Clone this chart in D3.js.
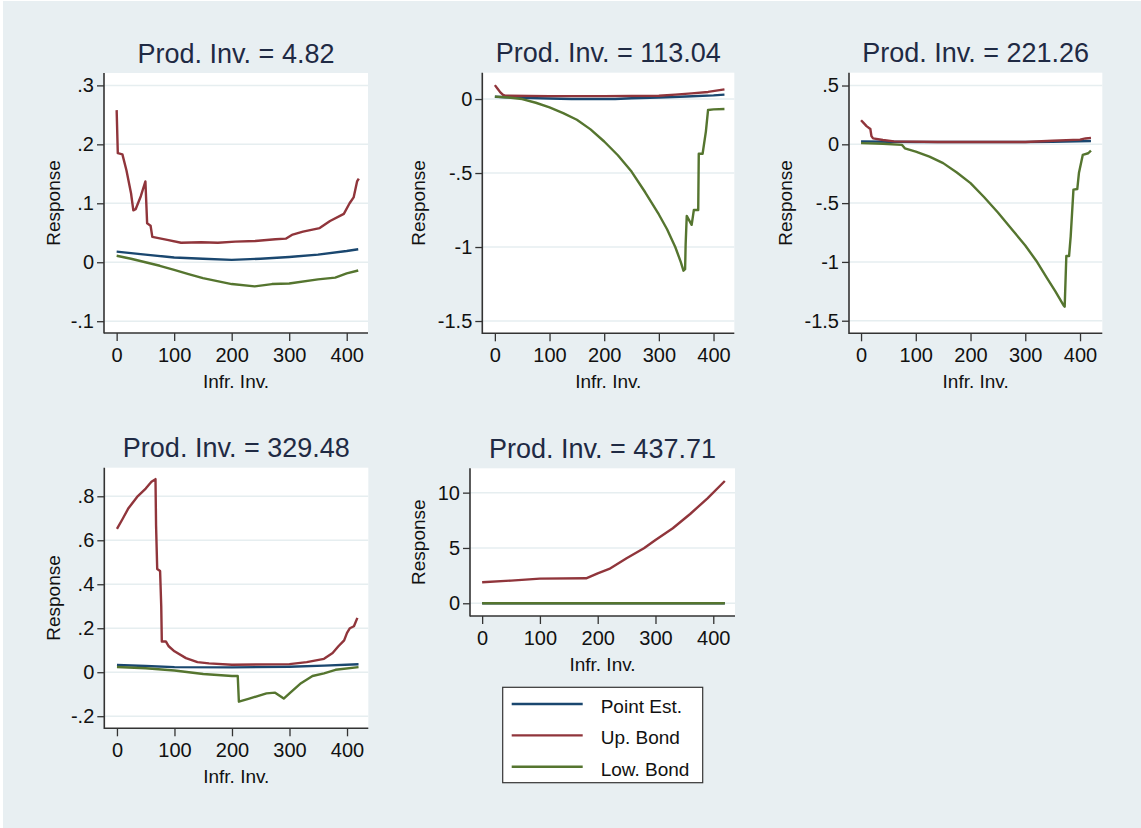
<!DOCTYPE html>
<html>
<head>
<meta charset="utf-8">
<script src="https://cdn.jsdelivr.net/npm/d3@7"></script>
<style>
  body { margin: 0; background: #ffffff; }
  svg { display: block; font-family: "Liberation Sans", Arial, sans-serif; }
</style>
</head>
<body>
<div id="chart"></div>
<script>
// values: [Infr. Inv., Response]
const titles = ['4.82', '113.04', '221.26', '329.48', '437.71']
const seriesNames = ['Point Est.', 'Up. Bond', 'Low. Bond']
const xTicks = [0, 100, 200, 300, 400]

const yTicks1 = [-0.1, 0, 0.1, 0.2, 0.3]
const point1 = [[0, 0.018], [50, 0.013], [100, 0.008], [150, 0.006], [200, 0.004], [250, 0.006], [300, 0.009], [350, 0.013], [400, 0.019], [420, 0.022]]
const up1 = [[0, 0.258], [2, 0.185], [10, 0.183], [17, 0.156], [25, 0.117], [29, 0.088], [33, 0.09], [42, 0.112], [50, 0.137], [53, 0.066], [59, 0.062], [62, 0.043], [88, 0.038], [112, 0.033], [147, 0.034], [176, 0.033], [206, 0.035], [241, 0.036], [276, 0.039], [294, 0.04], [306, 0.047], [324, 0.052], [353, 0.058], [371, 0.07], [395, 0.082], [405, 0.1], [412, 0.11], [418, 0.137], [421, 0.142]]
const low1 = [[0, 0.011], [25, 0.006], [50, 0.0], [75, -0.006], [100, -0.013], [125, -0.02], [150, -0.027], [175, -0.032], [200, -0.037], [240, -0.041], [270, -0.037], [300, -0.036], [350, -0.029], [380, -0.026], [400, -0.019], [420, -0.014]]

const yTicks2 = [-1.5, -1, -0.5, 0]
const point2 = [[0, 0.015], [20, 0.012], [50, 0.008], [100, 0.004], [140, 0.0], [220, 0.0], [250, 0.005], [300, 0.01], [350, 0.017], [400, 0.025], [420, 0.03]]
const up2 = [[0, 0.094], [5, 0.07], [10, 0.045], [15, 0.028], [20, 0.022], [100, 0.02], [200, 0.02], [300, 0.022], [330, 0.03], [360, 0.038], [390, 0.048], [420, 0.065]]
const low2 = [[0, 0.016], [25, 0.01], [50, 0.0], [75, -0.025], [100, -0.056], [125, -0.095], [150, -0.14], [175, -0.205], [200, -0.287], [225, -0.38], [250, -0.49], [275, -0.63], [300, -0.78], [315, -0.88], [330, -1.0], [340, -1.1], [345, -1.16], [348, -1.15], [349, -0.98], [351, -0.79], [360, -0.85], [364, -0.75], [372, -0.75], [373, -0.37], [380, -0.37], [386, -0.22], [390, -0.074], [400, -0.07], [420, -0.067]]

const yTicks3 = [-1.5, -1, -0.5, 0, 0.5]
const point3 = [[0, 0.025], [50, 0.022], [100, 0.02], [200, 0.02], [300, 0.02], [350, 0.022], [420, 0.028]]
const up3 = [[0, 0.205], [5, 0.18], [10, 0.155], [17, 0.13], [19, 0.07], [22, 0.05], [40, 0.037], [60, 0.025], [140, 0.02], [300, 0.02], [350, 0.03], [400, 0.04], [410, 0.05], [420, 0.055]]
const low3 = [[0, 0.01], [40, 0.005], [75, -0.005], [80, -0.034], [100, -0.062], [125, -0.105], [150, -0.16], [175, -0.24], [200, -0.33], [225, -0.45], [250, -0.58], [275, -0.72], [300, -0.86], [320, -0.99], [340, -1.14], [355, -1.25], [370, -1.37], [372, -1.38], [375, -0.95], [380, -0.95], [383, -0.78], [388, -0.385], [395, -0.38], [398, -0.244], [405, -0.09], [415, -0.076], [420, -0.053]]

const yTicks4 = [-0.2, 0, 0.2, 0.4, 0.6, 0.8]
const point4 = [[0, 0.033], [50, 0.028], [100, 0.023], [200, 0.022], [300, 0.025], [360, 0.03], [420, 0.036]]
const up4 = [[0, 0.652], [10, 0.698], [20, 0.746], [35, 0.797], [50, 0.835], [60, 0.866], [67, 0.878], [68, 0.667], [70, 0.469], [75, 0.46], [77, 0.3], [78, 0.14], [85, 0.14], [90, 0.118], [100, 0.095], [120, 0.064], [140, 0.046], [160, 0.04], [200, 0.034], [300, 0.037], [330, 0.046], [360, 0.061], [375, 0.087], [385, 0.118], [395, 0.145], [400, 0.179], [405, 0.2], [412, 0.209], [418, 0.247]]
const low4 = [[0, 0.024], [50, 0.018], [100, 0.008], [150, -0.008], [200, -0.017], [210, -0.017], [212, -0.134], [230, -0.12], [260, -0.096], [275, -0.093], [290, -0.12], [300, -0.096], [320, -0.05], [340, -0.017], [360, -0.005], [380, 0.011], [420, 0.023]]

const yTicks5 = [0, 5, 10]
const point5 = [[0, 0.0], [420, 0.0]]
const up5 = [[0, 1.9], [50, 2.05], [100, 2.23], [180, 2.26], [200, 2.71], [220, 3.1], [250, 4.07], [280, 4.97], [300, 5.72], [330, 6.78], [360, 8.07], [390, 9.49], [420, 11.05]]
const low5 = [[0, 0.0], [420, 0.0]]

const colors = ['#1a476f', '#90353b', '#55752f']

// layout of each panel (plot region in px, axis domains)
const panels = [
  {title: titles[0], box: [104, 73, 368, 333], xd: [-22, 437], yd: [-0.12, 0.321], yt: yTicks1, lines: [point1, up1, low1], yOff: 44},
  {title: titles[1], box: [482.3, 72.7, 734.3, 333.3], xd: [-23, 438], yd: [-1.583, 0.178], yt: yTicks2, lines: [point2, up2, low2], yOff: 57},
  {title: titles[2], box: [849, 72.7, 1102.3, 333.3], xd: [-22, 440.7], yd: [-1.607, 0.609], yt: yTicks3, lines: [point3, up3, low3], yOff: 57},
  {title: titles[3], box: [104.3, 467.7, 368.3, 728.3], xd: [-22, 437], yd: [-0.255, 0.93], yt: yTicks4, lines: [point4, up4, low4], yOff: 44},
  {title: titles[4], box: [470, 468.3, 735, 616], xd: [-21, 437.6], yd: [-1.15, 12.2], yt: yTicks5, lines: [point5, up5, low5], yOff: 45}
]

const W = 1141, H = 828
const svg = d3.select('#chart').append('svg').attr('width', W).attr('height', H)

svg.append('rect').attr('x', 3).attr('y', 1).attr('width', W - 3).attr('height', H - 1).attr('fill', '#e8eff2')

// stata style labels: .3 instead of 0.3, plain hyphen for minus
const fmt = (v) => String(+v.toFixed(4)).replace(/^0\./, '.').replace(/^-0\./, '-.')

let drawPanel = (p) => {
  const [x0, y0, x1, y1] = p.box
  const x = d3.scaleLinear().domain(p.xd).range([x0, x1])
  const y = d3.scaleLinear().domain(p.yd).range([y1, y0])
  const g = svg.append('g')

  g.append('rect').attr('x', x0).attr('y', y0).attr('width', x1 - x0).attr('height', y1 - y0).attr('fill', '#ffffff')

  g.selectAll('line.grid').data(p.yt).enter().append('line')
    .attr('class', 'grid')
    .attr('x1', x0).attr('x2', x1)
    .attr('y1', (d) => y(d)).attr('y2', (d) => y(d))
    .attr('stroke', '#e6eef0').attr('stroke-width', 1.5)

  const line = d3.line().x((d) => x(d[0])).y((d) => y(d[1]))
  p.lines.forEach((s, i) => {
    g.append('path').datum(s)
      .attr('d', line)
      .attr('fill', 'none')
      .attr('stroke', colors[i])
      .attr('stroke-width', 2.4)
      .attr('stroke-linejoin', 'round')
  })

  const yAxis = d3.axisLeft(y).tickValues(p.yt).tickSize(7).tickPadding(3).tickFormat(fmt)
  const xAxis = d3.axisBottom(x).tickValues(xTicks).tickSize(8).tickPadding(5).tickFormat(d3.format('d'))

  const ya = g.append('g').attr('transform', 'translate(' + x0 + ',0)').call(yAxis)
  const xa = g.append('g').attr('transform', 'translate(0,' + y1 + ')').call(xAxis)
  ;[ya, xa].forEach((a) => {
    a.select('.domain').remove()
    a.selectAll('line').attr('stroke', '#333').attr('stroke-width', 1.3)
    a.selectAll('text').attr('fill', '#111').style('font-size', '20px')
  })
  xa.selectAll('text').attr('dy', null).attr('y', 29)

  g.append('line').attr('x1', x0).attr('x2', x0).attr('y1', y0).attr('y2', y1 + 0.6)
    .attr('stroke', '#333').attr('stroke-width', 1.6)
  g.append('line').attr('x1', x0).attr('x2', x1).attr('y1', y1).attr('y2', y1)
    .attr('stroke', '#333').attr('stroke-width', 1.6)

  g.append('text')
    .attr('x', (x0 + x1) / 2).attr('y', y0 - 10.5)
    .attr('text-anchor', 'middle')
    .attr('fill', '#1f2a44')
    .style('font-size', '27px')
    .text('Prod. Inv. = ' + p.title)

  g.append('text')
    .attr('x', (x0 + x1) / 2).attr('y', y1 + 55)
    .attr('text-anchor', 'middle')
    .attr('fill', '#111')
    .style('font-size', '19px')
    .text('Infr. Inv.')

  g.append('text')
    .attr('transform', 'translate(' + (x0 - p.yOff) + ',' + (y0 + y1) / 2 + ') rotate(-90)')
    .attr('text-anchor', 'middle')
    .attr('fill', '#111')
    .style('font-size', '19px')
    .text('Response')
}

panels.forEach(drawPanel)

// legend
const lg = svg.append('g')
lg.append('rect').attr('x', 502.7).attr('y', 687.3).attr('width', 200).attr('height', 95.4)
  .attr('fill', '#ffffff').attr('stroke', '#333').attr('stroke-width', 1.2)
const items = lg.selectAll('g.item').data(seriesNames).enter().append('g')
  .attr('class', 'item')
  .attr('transform', (d, i) => 'translate(0,' + (704 + i * 31.35) + ')')
items.append('line').attr('x1', 511.7).attr('x2', 582.7)
  .attr('stroke', (d, i) => colors[i]).attr('stroke-width', 2.4)
items.append('text').attr('x', 600.7).attr('y', 9)
  .attr('fill', '#111').style('font-size', '19px')
  .text((d) => d)
</script>
</body>
</html>
